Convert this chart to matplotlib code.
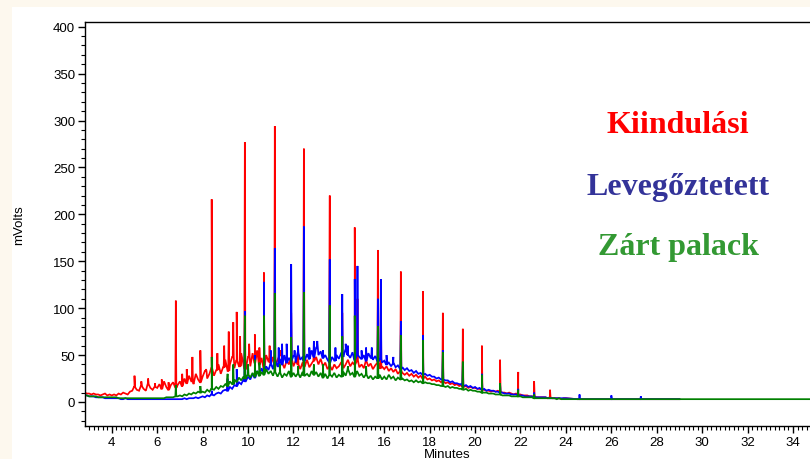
import numpy as np
import matplotlib
matplotlib.use('Agg')
import matplotlib.pyplot as plt
from matplotlib.patches import Rectangle
from matplotlib.lines import Line2D
from matplotlib.ticker import MultipleLocator

# baseline samples every 0.1 min from 2.8 to 24.0 (mVolts)
T_START = 2.8
T_STEP = 0.1

red_base = [10, 9,
            9, 8, 9, 8, 8, 7, 8, 9, 7, 8,
            7, 8, 7, 9, 8, 10, 9, 8, 11, 12,
            16, 13, 12, 17, 14, 12, 19, 15, 13, 16,
            15, 19, 14, 22, 16, 13, 18, 21, 15, 18,
            22, 17, 25, 20, 28, 22, 19, 30, 24, 21,
            27, 33, 25, 30, 36, 28, 34, 40, 30, 37,
            45, 33, 40, 48, 36, 44, 38, 52, 40, 35,
            48, 38, 52, 42, 55, 40, 47, 36, 50, 43,
            40, 48, 38, 45, 50, 42, 36, 44, 40, 47,
            38, 44, 40, 35, 42, 38, 45, 37, 41, 44,
            48, 40, 46, 38, 42, 35, 38, 34, 40, 36,
            38, 42, 36, 40, 45, 38, 42, 40, 44, 37,
            40, 36, 43, 38, 41, 35, 39, 42, 36, 38,
            35, 38, 33, 36, 32, 35, 30, 33, 31, 29,
            31, 28, 30, 27, 29, 26, 28, 25, 27, 24,
            25, 23, 24, 22, 23, 21, 22, 20, 21, 19,
            20, 18, 19, 17, 18, 16, 17, 15, 16, 15,
            15, 14, 14, 13, 13, 12, 12, 11, 12, 11,
            12, 11, 10, 10, 9, 10, 9, 8, 9, 8,
            8, 7, 7, 7, 6, 6, 6, 5, 5, 5,
            5, 5, 4, 5, 4, 4, 4, 4, 3, 4,
            4]

blue_base = [7, 7,
             6, 6, 6, 5, 5, 5, 5, 4, 4, 4,
             4, 4, 4, 4, 3, 3, 4, 3, 3, 3,
             3, 3, 3, 3, 3, 3, 3, 3, 3, 3,
             3, 3, 3, 3, 3, 3, 3, 3, 3, 3,
             3, 3, 4, 3, 4, 4, 4, 5, 4, 5,
             6, 5, 7, 6, 8, 7, 9, 10, 9, 12,
             13, 12, 16, 14, 18, 17, 21, 19, 24, 22,
             27, 24, 30, 26, 33, 29, 36, 31, 38, 34,
             40, 35, 44, 38, 46, 40, 50, 42, 47, 44,
             49, 42, 52, 45, 48, 44, 51, 46, 55, 48,
             58, 50, 54, 47, 50, 45, 42, 48, 44, 50,
             46, 52, 48, 55, 50, 47, 53, 45, 50, 48,
             46, 50, 44, 52, 47, 45, 49, 43, 46, 42,
             44, 40, 42, 38, 41, 37, 39, 35, 37, 34,
             36, 33, 34, 31, 33, 30, 31, 29, 30, 28,
             29, 27, 27, 25, 26, 24, 24, 23, 23, 21,
             22, 20, 20, 19, 19, 17, 18, 16, 17, 15,
             16, 14, 15, 13, 14, 12, 13, 12, 12, 11,
             11, 10, 10, 9, 9, 9, 8, 8, 8, 7,
             7, 7, 6, 6, 6, 6, 5, 5, 5, 5,
             5, 5, 4, 4, 4, 4, 4, 4, 4, 4,
             4]

green_base = [7, 7,
              6, 6, 6, 6, 5, 5, 5, 5, 5, 5,
              5, 5, 5, 4, 4, 4, 4, 4, 4, 4,
              4, 4, 4, 4, 4, 4, 4, 4, 4, 4,
              4, 4, 4, 4, 5, 5, 5, 5, 6, 6,
              7, 6, 8, 7, 9, 8, 10, 9, 11, 10,
              11, 10, 13, 11, 14, 13, 16, 14, 17, 16,
              19, 17, 22, 19, 24, 21, 26, 23, 27, 25,
              29, 26, 31, 27, 33, 28, 32, 29, 35, 30,
              33, 28, 32, 27, 31, 26, 30, 28, 33, 27,
              31, 27, 30, 26, 32, 28, 30, 27, 33, 29,
              32, 27, 31, 26, 30, 25, 29, 27, 31, 26,
              29, 27, 32, 28, 34, 29, 31, 27, 33, 28,
              30, 26, 29, 25, 28, 24, 27, 25, 29, 24,
              27, 24, 29, 25, 27, 23, 26, 24, 25, 23,
              24, 22, 23, 21, 23, 21, 22, 20, 21, 20,
              20, 19, 19, 18, 18, 17, 17, 16, 17, 15,
              16, 15, 15, 14, 14, 13, 14, 12, 13, 12,
              12, 11, 11, 10, 10, 10, 9, 9, 9, 8,
              8, 8, 7, 7, 7, 7, 6, 6, 6, 6,
              6, 5, 5, 5, 5, 5, 4, 4, 4, 4,
              4, 4, 4, 4, 4, 4, 3, 4, 3, 3,
              3]

# flat tail after 24 min
tail_t = [24.5, 26.0, 27.5, 29.0, 34.8]
red_tail = [3, 3, 3, 3]
blue_tail = [3, 3, 3, 3]
green_tail = [3, 3, 3, 3, 3]

# peaks: retention time (min), apex height (mVolts)
red_peak_t = [5.0, 5.3, 5.6, 5.9, 6.2, 6.5, 6.82, 7.1, 7.3, 7.55, 7.9, 8.15, 8.4, 8.65, 8.95,
              9.15, 9.35, 9.5, 9.65, 9.86, 10.05, 10.3, 10.5, 10.7, 10.95, 11.18, 11.45, 11.9,
              12.2, 12.46, 12.9, 13.6, 14.15, 14.7, 14.82, 15.2, 15.72, 15.85, 16.73, 17.7,
              18.58, 19.46, 20.3, 21.1, 21.9, 22.6, 23.3]
red_peak_h = [28, 22, 25, 20, 24, 21, 108, 30, 35, 48, 55, 35, 216, 52, 60,
              75, 85, 96, 70, 277, 62, 72, 58, 138, 60, 294, 55, 95,
              55, 270, 55, 220, 95, 186, 110, 55, 162, 105, 139, 118,
              95, 78, 60, 45, 32, 22, 13]

blue_peak_t = [8.4, 9.1, 9.5, 9.86, 10.3, 10.7, 11.0, 11.18, 11.35, 11.5, 11.7, 11.9, 12.05,
               12.2, 12.46, 12.7, 12.9, 13.05, 13.3, 13.6, 13.85, 14.15, 14.3, 14.4, 14.7, 14.82,
               15.0, 15.2, 15.45, 15.72, 15.85, 16.1, 16.4, 16.73, 17.7, 18.58, 19.46,
               20.3, 21.1, 21.9, 22.6, 24.6, 26.0, 27.3]
blue_peak_h = [12, 25, 35, 97, 50, 128, 55, 164, 58, 62, 62, 147, 55,
               60, 187, 58, 65, 65, 55, 152, 58, 115, 62, 60, 131, 145,
               55, 58, 58, 110, 131, 50, 48, 86, 71, 55, 42,
               30, 20, 14, 10, 8, 7, 6]

green_peak_t = [6.82, 7.9, 8.4, 9.1, 9.35, 9.86, 10.0, 10.3, 10.5, 10.7, 11.18, 11.4, 11.9,
                12.2, 12.46, 12.9, 13.3, 13.6, 14.15, 14.4, 14.7, 15.2, 15.72, 16.73, 17.7,
                18.58, 19.46, 20.3, 21.1, 21.9, 22.6]
green_peak_h = [18, 17, 48, 30, 40, 92, 40, 45, 42, 92, 116, 40, 69,
                38, 117, 40, 40, 103, 70, 38, 92, 38, 81, 71, 66,
                53, 43, 29, 20, 13, 8]

legend_names = ['DF2_HA', 'L2_DF1_HA', 'Z2_DF1_HA']
legend_files = ['DF2_HA 20070824.met', 'l2_df1_ha 20070824.met', 'Z2_DF1_HA 20070824.met']
labels = ['Kiindulási', 'Levegőztetett', 'Zárt palack']


def build_trace(base, tail, peak_t, peak_h, hw=0.022):
    t = list(T_START + T_STEP * np.arange(len(base)))
    v = list(base)
    t += tail_t[:len(tail)]
    v += tail
    grid = np.array(t)
    for pt, ph in zip(peak_t, peak_h):
        foot = v[int(np.argmin(np.abs(grid - pt)))]
        t += [pt - hw, pt, pt + hw]
        v += [foot, ph, foot]
    order = np.argsort(t, kind='stable')
    return np.array(t)[order], np.array(v)[order]


fig = plt.figure(figsize=(8.1, 4.6), dpi=100, facecolor='#fdf8ee')
fig.patches.append(Rectangle((12 / 810, 0), 1, 1 - 8 / 460, transform=fig.transFigure,
                             facecolor='white', edgecolor='none', zorder=-10))
ax = fig.add_axes([85 / 810, 33 / 460, 725 / 810, 404 / 460])
ax.set_zorder(5)
ax.set_facecolor('white')

colors = ['#ff0000', '#0000ff', '#008000']
series = [(red_base, red_tail, red_peak_t, red_peak_h),
          (blue_base, blue_tail, blue_peak_t, blue_peak_h),
          (green_base, green_tail, green_peak_t, green_peak_h)]
for (base, tail, pt, ph), c in zip(series, colors):
    x, y = build_trace(base, tail, pt, ph)
    ax.plot(x, y, color=c, lw=1.25, solid_joinstyle='miter')

ax.set_xlim(2.82, 34.75)
ax.set_ylim(-25.6, 405)
ax.spines['right'].set_visible(False)
for s in ['left', 'bottom', 'top']:
    ax.spines[s].set_linewidth(1.0)
ax.xaxis.set_major_locator(MultipleLocator(2))
ax.xaxis.set_minor_locator(MultipleLocator(0.2))
ax.yaxis.set_major_locator(MultipleLocator(50))
ax.yaxis.set_minor_locator(MultipleLocator(10))
ax.tick_params(which='major', direction='out', length=5, width=1.0, labelsize=9.5, pad=2)
ax.tick_params(which='minor', direction='out', length=3, width=0.8)
ax.tick_params(top=False, right=False, which='both')
for lab in ax.get_xticklabels() + ax.get_yticklabels():
    lab.set_family('Liberation Sans')
ax.set_xlabel('Minutes', family='Liberation Sans', fontsize=9.5, labelpad=0)
ax.set_ylabel('mVolts', family='Liberation Sans', fontsize=9.5, labelpad=20)

# legend block
leg_colors = ['#ff7373', '#7373ff', '#5fae5f']
col_x = [123, 270, 422]
for cx, name, fn, lc in zip(col_x, legend_names, legend_files, leg_colors):
    fig.text(cx / 810, 1 - 32 / 460, 'FID', fontsize=7.5, family='Liberation Sans', va='center')
    fig.text(cx / 810, 1 - 43 / 460, name, fontsize=7.5, family='Liberation Sans', va='center')
    fig.text(cx / 810, 1 - 55 / 460, fn, fontsize=7.5, family='Liberation Sans', va='center')
    fig.lines.append(Line2D([(cx - 22) / 810, (cx - 6) / 810], [1 - 43 / 460, 1 - 43 / 460],
                            transform=fig.transFigure, color=lc, lw=1.3))

# annotation labels
txt_colors = ['#ff0000', '#333399', '#339933']
txt_y = [133, 195, 255]
for s, c, yy in zip(labels, txt_colors, txt_y):
    fig.text(678 / 810, 1 - yy / 460, s, color=c, fontsize=23, fontweight='bold',
             family='Liberation Serif', ha='center', va='baseline', zorder=10)

fig.savefig('out.png', dpi=100, facecolor=fig.get_facecolor())
